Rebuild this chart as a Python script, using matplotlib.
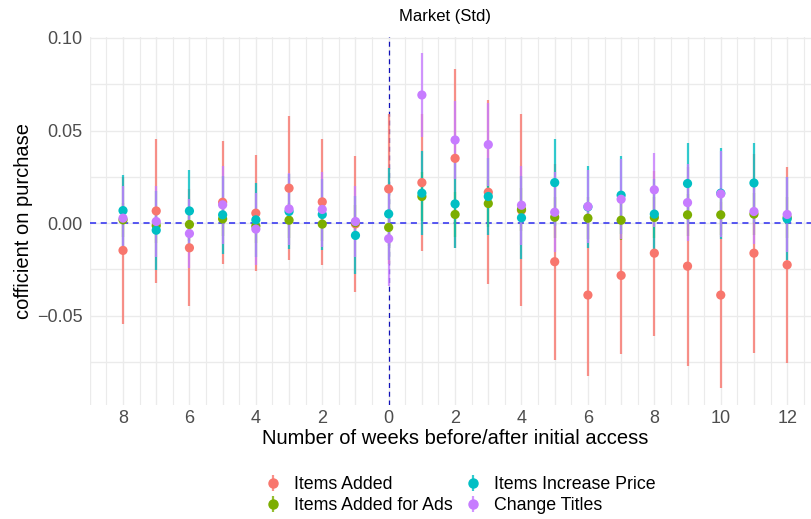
import matplotlib
matplotlib.use("Agg")
import matplotlib.pyplot as plt
from matplotlib.lines import Line2D
import numpy as np

plt.rcParams['font.family'] = ['Liberation Sans', 'DejaVu Sans']

weeks = [-8, -7, -6, -5, -4, -3, -2, -1, 0, 1, 2, 3, 4, 5, 6, 7, 8, 9, 10, 11, 12]
tick_weeks = [-8, -6, -4, -2, 0, 2, 4, 6, 8, 10, 12]
tick_labels = ['8', '6', '4', '2', '0', '2', '4', '6', '8', '10', '12']

series = ['Items Added', 'Items Added for Ads', 'Items Increase Price', 'Change Titles']
colors = ['#F8766D', '#7CAE00', '#00BFC4', '#C77CFF']

# point estimates
added = [-0.0147, 0.0066, -0.0133, 0.0113, 0.0054, 0.0189, 0.0115, -0.0004, 0.0185, 0.0219, 0.0350,
         0.0167, 0.0070, -0.0208, -0.0388, -0.0282, -0.0162, -0.0232, -0.0388, -0.0162, -0.0225]
ads = [0.0018, -0.0013, -0.0007, 0.0023, -0.0015, 0.0016, -0.0005, 0.0003, -0.0023, 0.0144, 0.0047,
       0.0106, 0.0074, 0.0032, 0.0027, 0.0016, 0.0031, 0.0045, 0.0045, 0.0049, 0.0030]
price = [0.0068, -0.0038, 0.0066, 0.0045, 0.0018, 0.0063, 0.0047, -0.0066, 0.0050, 0.0162, 0.0104,
         0.0144, 0.0029, 0.0219, 0.0088, 0.0151, 0.0049, 0.0214, 0.0162, 0.0217, 0.0023]
titles = [0.0027, 0.0009, -0.0056, 0.0099, -0.0032, 0.0077, 0.0074, 0.0009, -0.0084, 0.0692, 0.0449,
          0.0424, 0.0097, 0.0059, 0.0090, 0.0129, 0.0180, 0.0111, 0.0158, 0.0063, 0.0047]

# half widths of the confidence intervals
added_ci = [0.0396, 0.0387, 0.0316, 0.0333, 0.0314, 0.0390, 0.0340, 0.0369, 0.0404, 0.0368, 0.0482,
            0.0498, 0.0519, 0.0529, 0.0437, 0.0424, 0.0445, 0.0537, 0.0502, 0.0537, 0.0530]
ads_ci = [0.0090, 0.0095, 0.0088, 0.0092, 0.0090, 0.0094, 0.0089, 0.0093, 0.0100, 0.0130, 0.0120,
          0.0125, 0.0118, 0.0110, 0.0112, 0.0108, 0.0111, 0.0114, 0.0109, 0.0113, 0.0110]
price_ci = [0.0193, 0.0214, 0.0223, 0.0210, 0.0199, 0.0200, 0.0194, 0.0211, 0.0248, 0.0227, 0.0237,
            0.0210, 0.0225, 0.0236, 0.0221, 0.0212, 0.0187, 0.0221, 0.0245, 0.0218, 0.0224]
titles_ci = [0.0171, 0.0192, 0.0185, 0.0212, 0.0196, 0.0194, 0.0201, 0.0194, 0.0256, 0.0226, 0.0212,
             0.0223, 0.0214, 0.0215, 0.0198, 0.0215, 0.0199, 0.0209, 0.0230, 0.0174, 0.0201]

estimates = [added, ads, price, titles]
cis = [added_ci, ads_ci, price_ci, titles_ci]

fig = plt.figure(figsize=(8.12, 5.19), dpi=100)
ax = fig.add_axes([0.1106, 0.2202, 0.8997, 0.7085])

x = np.array(weeks)
ax.set_xlim(-9, 13)
ax.set_ylim(-0.098, 0.1005)

# grid
for gx in np.arange(-9, 13.01, 0.5):
    ax.axvline(gx, color='#ebebeb', lw=1.0 if gx == int(gx) else 0.8, zorder=0)
for gy in [-0.075, -0.05, -0.025, 0.0, 0.025, 0.05, 0.075, 0.10]:
    ax.axhline(gy, color='#ebebeb', lw=1.0, zorder=0)

ax.axhline(0, color='#2b2bf0', lw=1.1, ls=(0, (4, 3)), zorder=1)
ax.axvline(0, color='#1010b8', lw=0.9, ls=(0, (4, 3)), zorder=1)

# interval bars first, then all the points on top
for est, ci, col in zip(estimates, cis, colors):
    est = np.array(est)
    ci = np.array(ci)
    ax.vlines(x, est - ci, est + ci, color=col, lw=1.6, alpha=0.8, zorder=2)
for est, col in zip(estimates, colors):
    ax.scatter(x, est, s=44, color=col, edgecolors='none', zorder=3)

ax.set_xticks(tick_weeks)
ax.set_xticklabels(tick_labels)
ax.set_yticks([-0.05, 0.0, 0.05, 0.10])
ax.set_yticklabels(['\u22120.05', '0.00', '0.05', '0.10'])
ax.tick_params(axis='both', length=0, labelsize=13, labelcolor='#4d4d4d')
ax.tick_params(axis='y', pad=5)
ax.tick_params(axis='x', pad=4)
for s in ax.spines.values():
    s.set_visible(False)

ax.set_xlabel('Number of weeks before/after initial access', fontsize=14.5, labelpad=1)
ax.set_ylabel('cofficient on purchase', fontsize=14.5, labelpad=3)
fig.text(445 / 812, 1 - 17 / 519, 'Market (Std)', ha='center', va='center', fontsize=12)

handles = []
for col in colors:
    bar = Line2D([], [], color=col, marker='|', markersize=11, mew=1.6, ls='none', alpha=0.8)
    dot = Line2D([], [], color=col, marker='o', markersize=6.5, ls='none')
    handles.append((bar, dot))
fig.legend(handles, series, ncol=2, loc='center', bbox_to_anchor=(460 / 812, 1 - 495 / 519),
           frameon=False, fontsize=12.8, handlelength=1.0, handletextpad=0.7,
           columnspacing=0.6, labelspacing=0.2)

fig.savefig('out.png', dpi=100)
